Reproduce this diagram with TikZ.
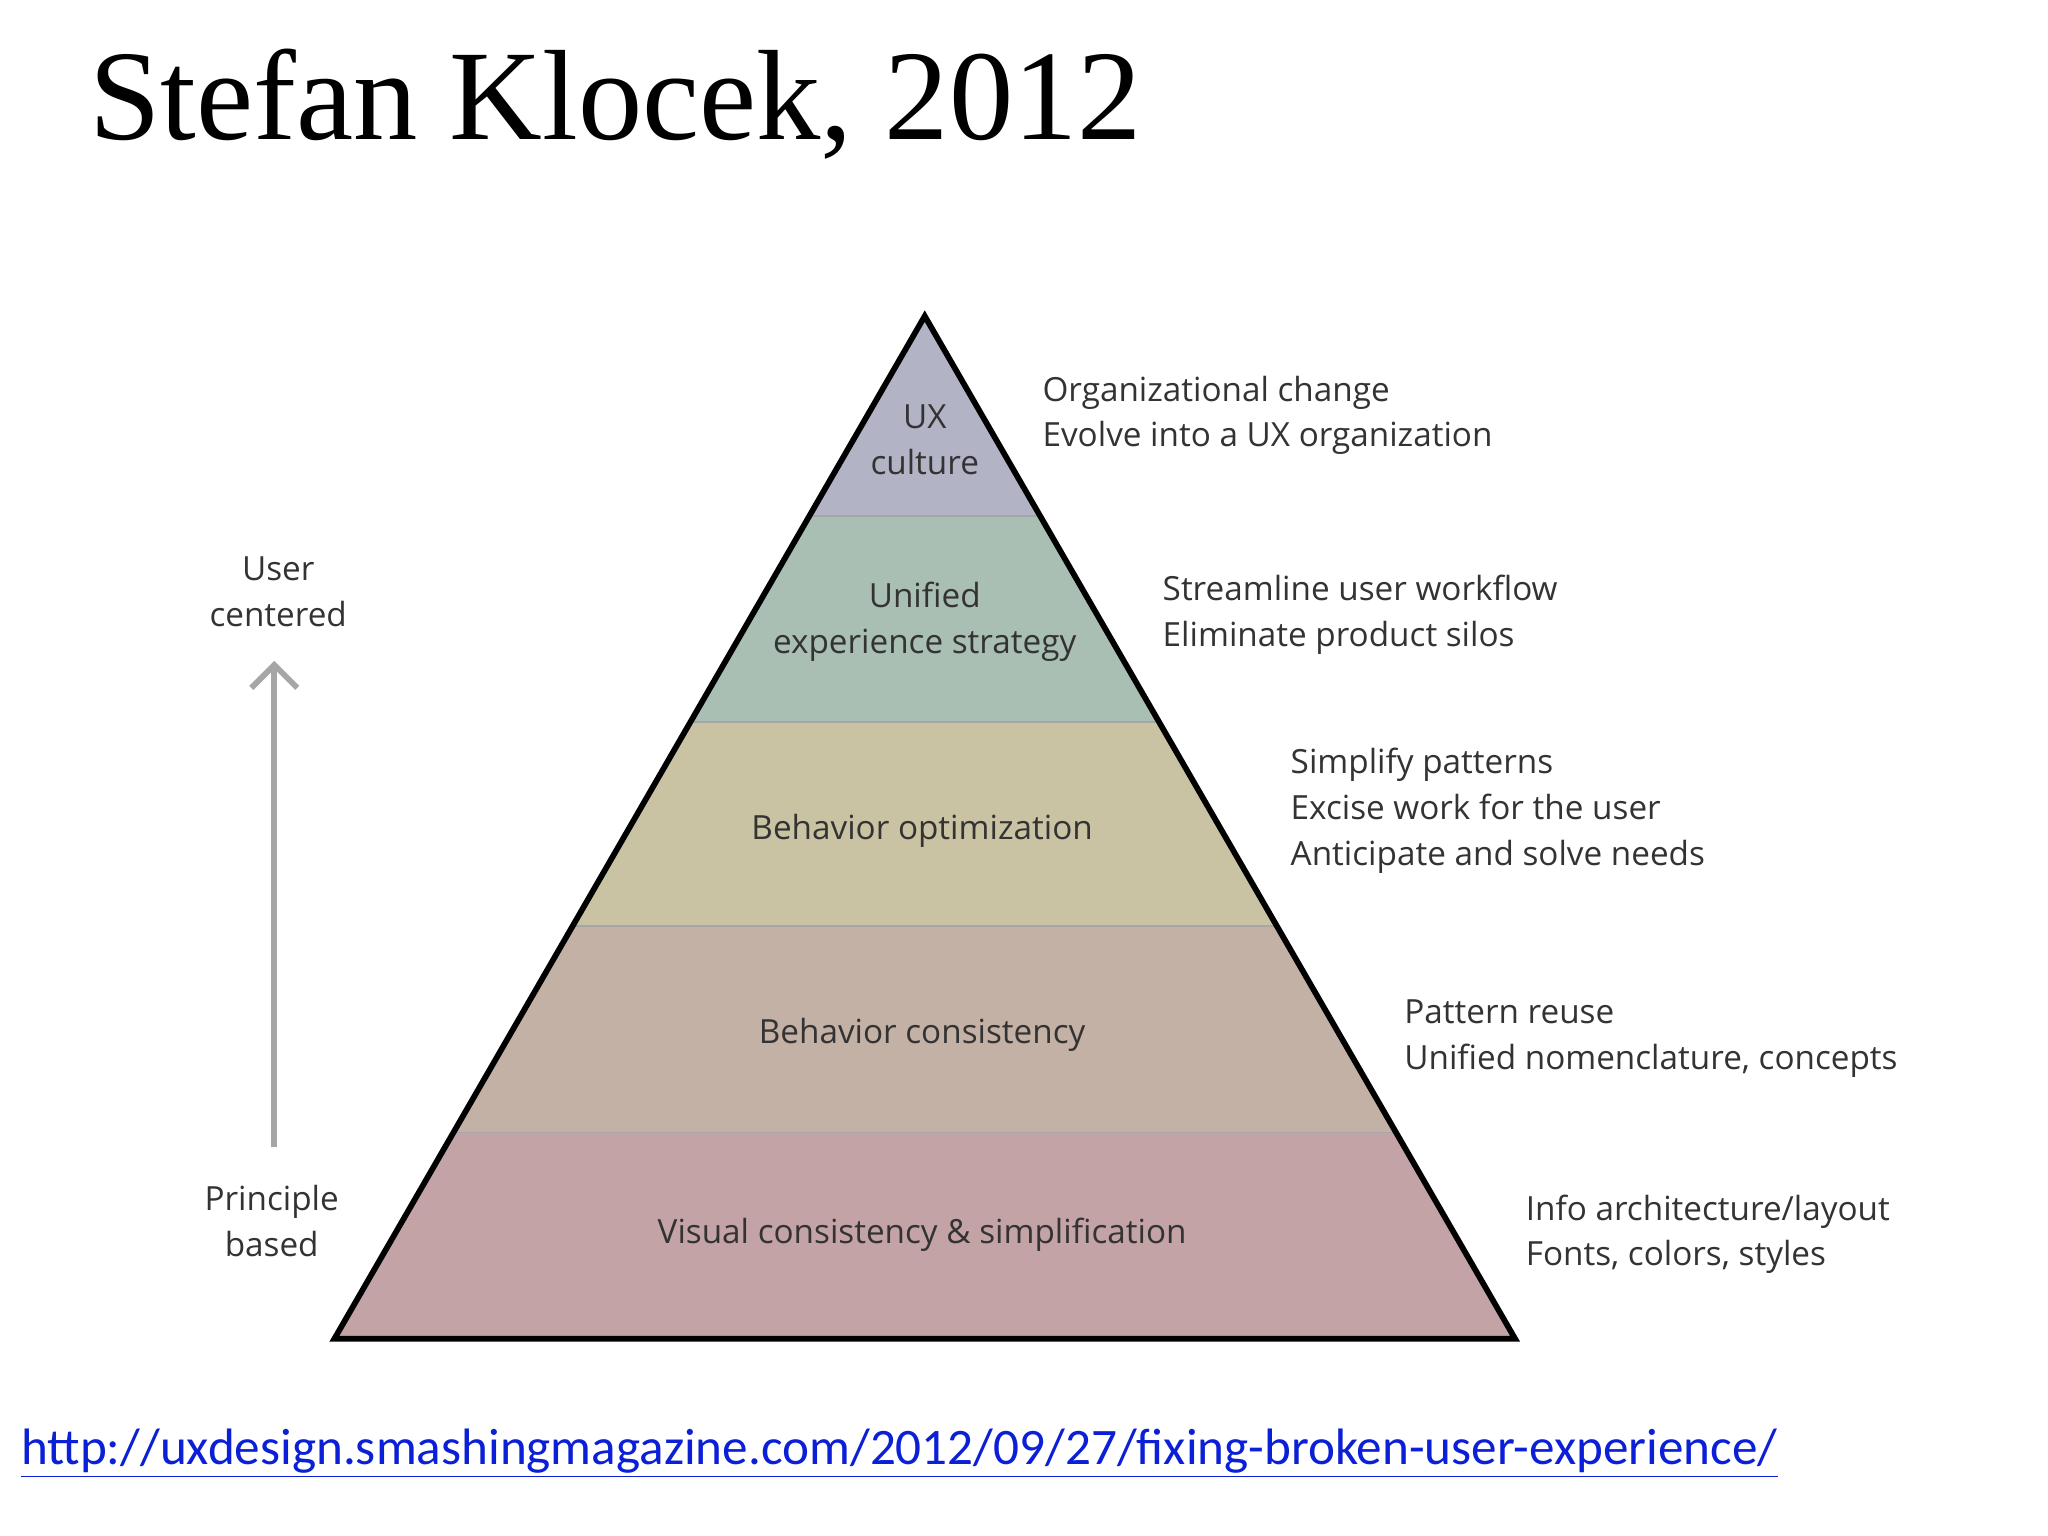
\documentclass[tikz,border=0pt]{standalone}
\usepackage{fontspec}
\setmainfont{Open Sans}
\newfontfamily\titlefont{Liberation Serif}
\newfontfamily\urlfont{Carlito}
\usetikzlibrary{arrows.meta}
\definecolor{cA}{HTML}{B3B3C6}
\definecolor{cB}{HTML}{A9BFB3}
\definecolor{cC}{HTML}{C9C3A3}
\definecolor{cD}{HTML}{C4B1A6}
\definecolor{cE}{HTML}{C3A3A6}
\definecolor{txt}{HTML}{333333}
\definecolor{linkblue}{HTML}{0B1FD6}
\begin{document}
\begin{tikzpicture}[x=0.02cm,y=-0.02cm,
  lbl/.style={font=\fontsize{14.5}{20}\selectfont,text=txt,align=center},
  side/.style={font=\fontsize{14.5}{20}\selectfont,text=txt,align=left,anchor=west},
  sep/.style={draw=gray!70,line width=0.8pt}]
\useasboundingbox (0,0) rectangle (1568,1176);
\fill[white] (0,0) rectangle (1568,1176);
\def\L#1{708-(#1-242)*0.57727}
\def\R#1{708+(#1-242)*0.57727}
\coordinate (apex) at (708,242);
\coordinate (bl) at (256,1025);
\coordinate (br) at (1160,1025);
\fill[cA] (apex) -- ({\L{395}},395) -- ({\R{395}},395) -- cycle;
\fill[cB] ({\L{395}},395) -- ({\L{553}},553) -- ({\R{553}},553) -- ({\R{395}},395) -- cycle;
\fill[cC] ({\L{553}},553) -- ({\L{709}},709) -- ({\R{709}},709) -- ({\R{553}},553) -- cycle;
\fill[cD] ({\L{709}},709) -- ({\L{867}},867) -- ({\R{867}},867) -- ({\R{709}},709) -- cycle;
\fill[cE] ({\L{867}},867) -- (bl) -- (br) -- ({\R{867}},867) -- cycle;
\foreach \y in {395,553,709,867} \draw[sep] ({\L{\y}},\y) -- ({\R{\y}},\y);
\draw[line width=2.5pt,line join=miter] (apex) -- (bl) -- (br) -- cycle;
\node[lbl] (l1) at (708,337) {UX\\culture};
\node[lbl] (l2) at (708,476) {Unified\\experience strategy};
\node[lbl] (l3) at (706,636) {Behavior optimization};
\node[lbl] (l4) at (706,792) {Behavior consistency};
\node[lbl] (l5) at (706,945) {Visual consistency \& simplification};
\node[side] (r1) at (792,318) {Organizational change\\Evolve into a UX organization};
\node[side] (r2) at (884,471) {Streamline user workflow\\Eliminate product silos};
\node[side] (r3) at (982,621) {Simplify patterns\\Excise work for the user\\Anticipate and solve needs};
\node[side] (r4) at (1069,795) {Pattern reuse\\Unified nomenclature, concepts};
\node[side] (r5) at (1162,945) {Info architecture/layout\\Fonts, colors, styles};
\node[lbl] (uc) at (213,453) {User\\centered};
\node[lbl] (pb) at (208,935) {Principle\\based};
\coordinate (a0) at (210,878);
\coordinate (a1) at (210,506);
\draw[gray!70,line width=2.5pt,-{Straight Barb[length=10pt,width=20pt]}] (a0) -- (a1);
\node[anchor=west,font=\titlefont\fontsize{56}{60}\selectfont] (title) at (62,80) {Stefan Klocek, 2012};
\node[anchor=west,font=\urlfont\fontsize{22.3}{28}\selectfont,text=linkblue] (url) at (10,1113)
 {\underline{http://uxdesign.smashingmagazine.com/2012/09/27/fixing-broken-user-experience/}};
\end{tikzpicture}
\end{document}
